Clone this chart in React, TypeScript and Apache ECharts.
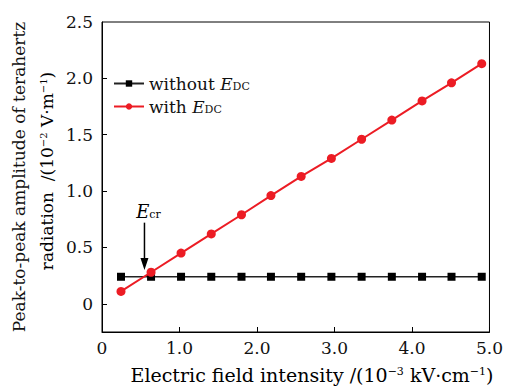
import React, { useEffect, useRef } from "react";
import * as echarts from "echarts";

const fieldIntensity = [0.245, 0.633, 1.02, 1.41, 1.8, 2.18, 2.57, 2.96, 3.35, 3.74, 4.13, 4.51, 4.9];
const withoutEdc = [0.24, 0.24, 0.24, 0.24, 0.24, 0.24, 0.24, 0.24, 0.24, 0.24, 0.24, 0.24, 0.24];
const withEdc = [0.11, 0.28, 0.45, 0.62, 0.79, 0.96, 1.13, 1.29, 1.46, 1.63, 1.8, 1.96, 2.13];
const yLabelValues = [0, 0.5, 1.0, 1.5, 2.0, 2.5];
const yTickValues = [0, 0.5, 1.0, 1.5, 2.0];
const ecrX = 0.548;
const ecrArrowTop = 0.72;
const ecrArrowBottom = 0.3;
const ecrTextY = 0.82;

const FONT = "DejaVu Serif";

export default function App() {
  const ref = useRef<HTMLDivElement>(null);
  useEffect(() => {
    if (!ref.current) return;
    const chart = echarts.init(ref.current, null, { renderer: "svg" });
    const fmt = (v: number) => (v === 0 ? "0" : v.toFixed(1));
    const legendRich = {
      n: { fontFamily: FONT, fontSize: 17, color: "#111" },
      i: { fontFamily: FONT, fontSize: 17, fontStyle: "italic", color: "#111" },
      sub: { fontFamily: FONT, fontSize: 11, color: "#111", verticalAlign: "bottom" },
    };
    chart.setOption({
      animation: false,
      backgroundColor: "#fff",
      grid: {
        left: 102,
        top: 22,
        width: 388,
        height: 310,
        show: true,
        borderColor: "#000",
        borderWidth: 1,
        backgroundColor: "transparent",
      },
      legend: {
        orient: "vertical",
        left: 108,
        top: 70,
        itemWidth: 30,
        itemHeight: 8,
        itemGap: 6,
        data: ["without", "with"],
        formatter: (name: string) =>
          name === "without" ? "{n|without }{i|E}{sub|DC}" : "{n|with }{i|E}{sub|DC}",
        textStyle: { rich: legendRich },
      },
      xAxis: {
        type: "value",
        min: 0,
        max: 5,
        interval: 1,
        axisLine: { show: true, onZero: false, lineStyle: { color: "#000", width: 1 } },
        axisTick: { show: true, inside: true, length: 5, lineStyle: { color: "#000" } },
        splitLine: { show: false },
        axisLabel: { formatter: fmt, fontFamily: FONT, fontSize: 17, color: "#111", margin: 7 },
      },
      yAxis: {
        type: "value",
        min: -0.25,
        max: 2.5,
        axisLine: { show: true, onZero: false, lineStyle: { color: "#000", width: 1 } },
        axisTick: { show: true, inside: true, length: 5, lineStyle: { color: "#000" }, customValues: yTickValues },
        splitLine: { show: false },
        axisLabel: {
          formatter: fmt,
          fontFamily: FONT,
          fontSize: 17,
          color: "#111",
          margin: 9,
          customValues: yLabelValues,
        },
      },
      series: [
        {
          name: "without",
          type: "line",
          data: fieldIntensity.map((x, i) => [x, withoutEdc[i]]),
          symbol: "rect",
          symbolSize: 8,
          itemStyle: { color: "#000" },
          lineStyle: { color: "#222", width: 1.5 },
          z: 2,
        },
        {
          name: "with",
          type: "line",
          data: fieldIntensity.map((x, i) => [x, withEdc[i]]),
          symbol: "circle",
          symbolSize: 9,
          itemStyle: { color: "#ec1c24" },
          lineStyle: { color: "#ec1c24", width: 2 },
          z: 3,
        },
      ],
    });

    const top = chart.convertToPixel({ gridIndex: 0 }, [ecrX, ecrArrowTop]) as number[];
    const bot = chart.convertToPixel({ gridIndex: 0 }, [ecrX, ecrArrowBottom]) as number[];
    const txt = chart.convertToPixel({ gridIndex: 0 }, [ecrX, ecrTextY]) as number[];
    const supRich = (size: number) => ({
      n: { fontFamily: FONT, fontSize: size, color: "#111" },
      sup: { fontFamily: FONT, fontSize: Math.round(size * 0.6), color: "#111", verticalAlign: "top" },
    });
    chart.setOption({
      graphic: [
        {
          id: "ytitle1",
          type: "text",
          x: 19,
          y: 177,
          rotation: Math.PI / 2,
          style: {
            text: "Peak-to-peak amplitude of terahertz",
            fontFamily: FONT,
            fontSize: 17,
            fill: "#111",
            align: "center",
            verticalAlign: "middle",
          },
        },
        {
          id: "ytitle2",
          type: "text",
          x: 47,
          y: 171,
          rotation: Math.PI / 2,
          style: {
            text: "{n|radiation  /(10}{sup|−2}{n| V·m}{sup|−1}{n|)}",
            rich: supRich(17),
            align: "center",
            verticalAlign: "middle",
          },
        },
        {
          id: "xtitle",
          type: "text",
          x: 312,
          y: 375,
          style: {
            text: "{n|Electric field intensity /(10}{sup|−3}{n| kV·cm}{sup|−1}{n|)}",
            rich: supRich(19),
            align: "center",
            verticalAlign: "middle",
          },
        },
        {
          id: "ecrText",
          type: "text",
          x: txt[0] + 4,
          y: txt[1],
          style: {
            text: "{i|E}{sub|cr}",
            rich: {
              i: { fontFamily: FONT, fontSize: 18, fontStyle: "italic", color: "#111" },
              sub: { fontFamily: FONT, fontSize: 11, color: "#111", verticalAlign: "bottom" },
            },
            align: "center",
            verticalAlign: "middle",
          },
        },
        {
          id: "ecrLine",
          type: "line",
          shape: { x1: top[0], y1: top[1], x2: bot[0], y2: bot[1] - 10 },
          style: { stroke: "#000", lineWidth: 1.5 },
        },
        {
          id: "ecrHead",
          type: "polygon",
          shape: {
            points: [
              [bot[0] - 4, bot[1] - 12],
              [bot[0] + 4, bot[1] - 12],
              [bot[0], bot[1]],
            ],
          },
          style: { fill: "#000" },
        },
      ],
    });

    return () => chart.dispose();
  }, []);
  return <div ref={ref} style={{ width: 506, height: 387, position: "absolute", left: 0, top: 0 }} />;
}
